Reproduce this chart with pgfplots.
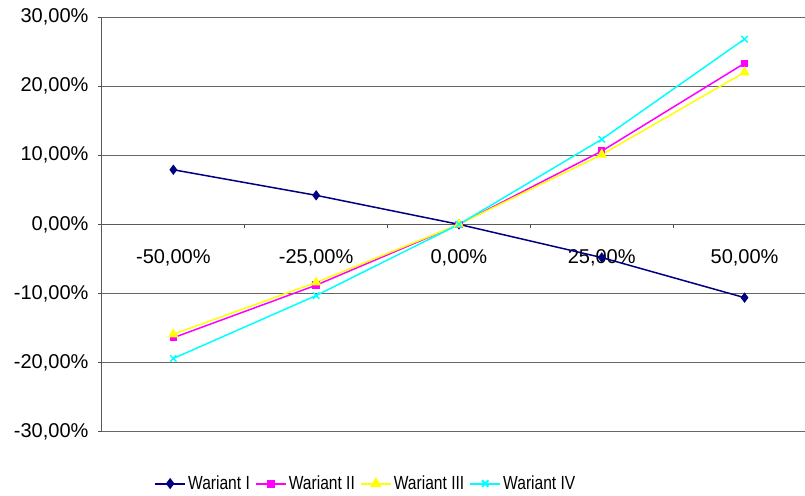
\documentclass[border=0pt]{standalone}
\usepackage{pgfplots}
\pgfplotsset{compat=1.18}
\usepackage{fontspec}
\setmainfont{Liberation Sans}
\newfontfamily\narrowfont[FakeStretch=0.82]{Liberation Sans}
\definecolor{wnavy}{RGB}{0,0,128}
\definecolor{wmag}{RGB}{255,0,255}
\definecolor{wyel}{RGB}{255,255,0}
\definecolor{wcyan}{RGB}{0,255,255}
\begin{document}
\begin{tikzpicture}
\begin{axis}[
  scale only axis,
  width=703pt, height=415pt,
  xmin=-0.5, xmax=4.42,
  ymin=-30, ymax=30,
  axis x line=middle, axis y line=left,
  axis line style={-, black!65, line width=1pt},
  ytick={-30,-20,...,30},
  yticklabels={{-30,00\%},{-20,00\%},{-10,00\%},{0,00\%},{10,00\%},{20,00\%},{30,00\%}},
  ymajorgrids,
  grid style={black!60, line width=0.9pt},
  tick align=outside,
  major tick length=4pt,
  tick style={black!70, line width=0.8pt},
  xtick={0.5,1.5,2.5,3.5},
  xticklabels={},
  extra x ticks={0,1,2,3,4},
  extra x tick labels={{-50,00\%},{-25,00\%},{0,00\%},{25,00\%},{50,00\%}},
  extra x tick style={major tick length=0pt, grid=none},
  ticklabel style={font=\fontsize{20}{24}\selectfont},
  xticklabel style={yshift=-22pt},
  yticklabel style={xshift=-6pt},
  legend style={at={(0.3755,-0.125)}, anchor=center, draw=none,
    legend columns=4, font=\narrowfont\fontsize{19}{22}\selectfont,
    /tikz/every even column/.append style={column sep=3pt}},
  legend image code/.code={\draw[mark repeat=2, mark phase=2] plot coordinates {(0pt,0pt) (15pt,0pt) (30pt,0pt)};},
  legend image post style={line width=2pt},
  every axis plot/.append style={line width=1.5pt},
  clip=false,
]
\addplot[color=wnavy, mark=diamond*, mark size=4pt] coordinates {
  (0,7.9) (1,4.2) (2,0) (3,-4.8) (4,-10.6)};
\addplot[color=wmag, mark=square*, mark size=3pt] coordinates {
  (0,-16.4) (1,-8.8) (2,0) (3,10.6) (4,23.3)};
\addplot[color=wyel, mark=triangle*, mark size=4.5pt] coordinates {
  (0,-15.9) (1,-8.4) (2,0) (3,10.1) (4,22.0)};
\addplot[color=wcyan, mark=x, mark size=4.5pt] coordinates {
  (0,-19.4) (1,-10.3) (2,0) (3,12.3) (4,26.8)};
\legend{Wariant I, Wariant II, Wariant III, Wariant IV}
% page margins as in the reference
\path (rel axis cs:0,0) ++(-102pt,-64pt) (rel axis cs:1,1) ++(0pt,17pt);
\end{axis}
\end{tikzpicture}
\end{document}
